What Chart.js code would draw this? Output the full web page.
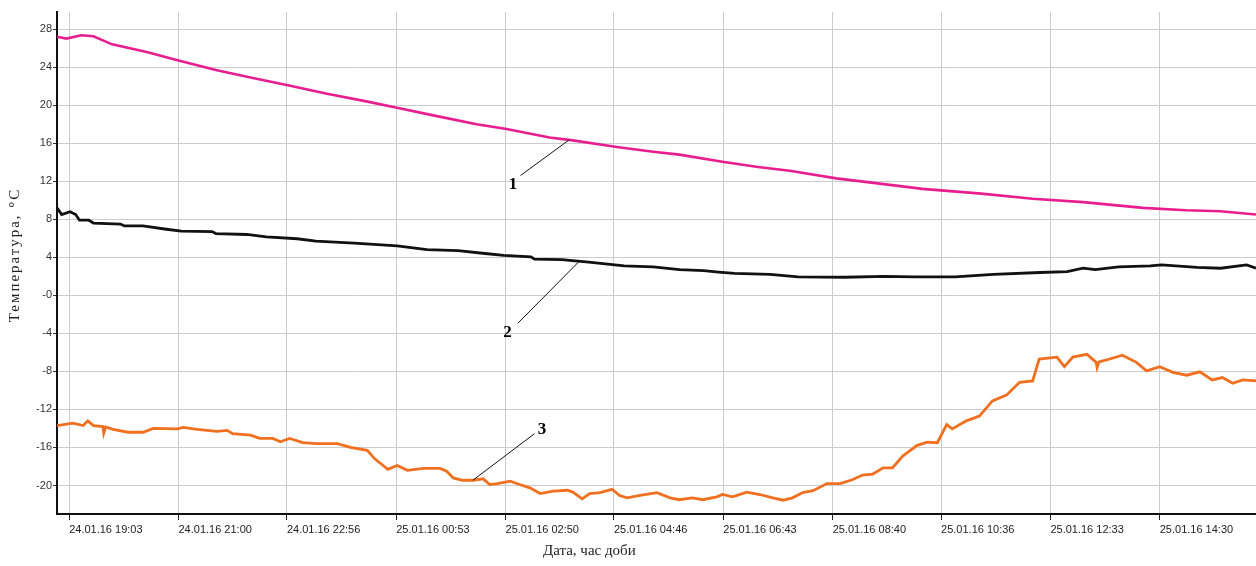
<!DOCTYPE html>
<html>
<head>
<meta charset="utf-8">
<script src="https://cdn.jsdelivr.net/npm/chart.js@4.4.1/dist/chart.umd.min.js"></script>
<style>
body { margin: 0; background: #fff; }
canvas { display: block; }
</style>
</head>
<body>
<canvas id="chart" width="1256" height="566"></canvas>
<script>
// x values are minutes after 24.01.16 19:03
const xTickMinutes = [0, 117, 233, 350, 467, 583, 700, 817, 933, 1050, 1167];
const xTickLabels = ['24.01.16 19:03', '24.01.16 21:00', '24.01.16 22:56', '25.01.16 00:53',
    '25.01.16 02:50', '25.01.16 04:46', '25.01.16 06:43', '25.01.16 08:40',
    '25.01.16 10:36', '25.01.16 12:33', '25.01.16 14:30'];
const yTickValues = [28, 24, 20, 16, 12, 8, 4, 0, -4, -8, -12, -16, -20];
const yTickLabels = ['28', '24', '20', '16', '12', '8', '4', '-0', '-4', '-8', '-12', '-16', '-20'];

// curve 1 (pink)
const pinkTime = [-13, -3, 13, 26, 46, 83, 117, 157, 194, 234, 276, 318, 352, 391, 436, 468,
    514, 539, 586, 625, 653, 699, 737, 771, 821, 863, 913, 976, 1031, 1085, 1149, 1195, 1232, 1270];
const pinkTemp = [27.2, 27.0, 27.35, 27.25, 26.4, 25.6, 24.7, 23.7, 22.9, 22.1, 21.2, 20.4, 19.7, 18.9, 18.0, 17.5,
    16.6, 16.3, 15.6, 15.1, 14.8, 14.05, 13.5, 13.1, 12.3, 11.8, 11.2, 10.7, 10.15, 9.8, 9.2, 8.95, 8.85, 8.5];

// curve 2 (black)
const blackTime = [-13, -8, 1, 7, 11, 21, 26, 55, 59, 79, 104, 120, 153, 157, 190, 211, 244, 264, 305,
    351, 383, 416, 445, 465, 494, 498, 527, 556, 594, 625, 653, 679, 695, 712, 750, 780, 830, 872,
    905, 948, 989, 1039, 1068, 1085, 1098, 1123, 1157, 1169, 1207, 1232, 1260, 1270];
const blackTemp = [9.2, 8.5, 8.8, 8.5, 7.9, 7.9, 7.6, 7.5, 7.3, 7.3, 6.95, 6.75, 6.7, 6.5, 6.4, 6.15, 5.95, 5.7, 5.5,
    5.2, 4.8, 4.7, 4.4, 4.2, 4.05, 3.8, 3.75, 3.5, 3.1, 3.0, 2.7, 2.6, 2.45, 2.3, 2.2, 1.95, 1.9, 2.0,
    1.95, 1.95, 2.2, 2.4, 2.5, 2.85, 2.7, 3.0, 3.1, 3.2, 2.95, 2.85, 3.2, 2.85];

// curve 3 (orange)
const orangeTime = [-13, 4, 15, 20, 26, 36, 37, 39, 47, 63, 79, 90, 116, 122, 137, 158, 169, 175, 194,
    204, 218, 226, 236, 250, 265, 287, 301, 319, 327, 336, 341, 351, 362, 379, 397, 404, 411, 421,
    432, 443, 450, 458, 472, 482, 493, 504, 518, 533, 539, 549, 557, 568, 581, 589, 597, 611, 629,
    643, 653, 667, 678, 693, 699, 710, 725, 739, 753, 764, 774, 785, 796, 811, 825, 838, 849, 860,
    871, 881, 892, 907, 918, 929, 939, 945, 960, 974, 988, 1003, 1017, 1031, 1038, 1057, 1065, 1074,
    1089, 1099, 1100, 1102, 1110, 1127, 1142, 1153, 1167, 1181, 1196, 1210, 1223, 1234, 1245, 1256, 1270];
const orangeTemp = [-13.7, -13.45, -13.7, -13.2, -13.7, -13.8, -14.5, -13.85, -14.1, -14.4, -14.4, -14.0, -14.05, -13.9, -14.1, -14.3, -14.2, -14.55, -14.7,
    -15.05, -15.05, -15.4, -15.05, -15.5, -15.6, -15.6, -16.0, -16.3, -17.2, -17.9, -18.3, -17.9, -18.4, -18.2, -18.2, -18.5, -19.2, -19.45,
    -19.45, -19.3, -19.9, -19.8, -19.55, -19.9, -20.25, -20.85, -20.6, -20.5, -20.7, -21.4, -20.85, -20.75, -20.4, -21.05, -21.3, -21.05, -20.75,
    -21.3, -21.5, -21.3, -21.5, -21.2, -20.95, -21.2, -20.7, -20.95, -21.3, -21.55, -21.3, -20.75, -20.55, -19.8, -19.8, -19.4, -18.9, -18.8,
    -18.15, -18.15, -16.9, -15.8, -15.45, -15.5, -13.6, -14.05, -13.2, -12.7, -11.1, -10.5, -9.15, -9.0, -6.7, -6.5, -7.5, -6.5,
    -6.2, -7.05, -7.6, -7.0, -6.8, -6.3, -7.05, -7.95, -7.5, -8.1, -8.4, -8.05, -8.9, -8.65, -9.25, -8.9, -9.0];

// curve numbers with leader lines, [minute, temp]
const curveNames = ['1', '2', '3'];
const labelAt = [[475, 11.6], [469, -3.9], [506, -14.1]];
const leaderFrom = [[483, 12.6], [480, -2.95], [498, -14.55]];
const leaderTo = [[535, 16.35], [545, 3.5], [432, -19.45]];

function toPoints(times, temps) {
    return times.map((t, i) => ({ x: t, y: temps[i] }));
}

const tickFont = { family: "'Liberation Sans', Arial, sans-serif", size: 11 };

const labelsPlugin = {
    id: 'labels',
    afterDatasetsDraw(chart) {
        const ctx = chart.ctx;
        const xs = chart.scales.x, ys = chart.scales.y;
        ctx.save();
        ctx.strokeStyle = '#111';
        ctx.lineWidth = 1;
        ctx.fillStyle = '#000';
        ctx.font = "bold 17px 'Liberation Serif', 'Times New Roman', serif";
        ctx.textAlign = 'center';
        ctx.textBaseline = 'middle';
        curveNames.forEach((name, i) => {
            ctx.beginPath();
            ctx.moveTo(xs.getPixelForValue(leaderFrom[i][0]), ys.getPixelForValue(leaderFrom[i][1]));
            ctx.lineTo(xs.getPixelForValue(leaderTo[i][0]), ys.getPixelForValue(leaderTo[i][1]));
            ctx.stroke();
            ctx.fillText(name, xs.getPixelForValue(labelAt[i][0]), ys.getPixelForValue(labelAt[i][1]));
        });
        ctx.restore();
    },
    afterDraw(chart) {
        const ctx = chart.ctx;
        const area = chart.chartArea;
        ctx.save();
        ctx.fillStyle = '#222';
        ctx.font = "15px 'Liberation Serif', 'Times New Roman', serif";
        ctx.textAlign = 'center';
        ctx.textBaseline = 'middle';
        // x axis title
        ctx.fillText('Дата, час доби', area.left + (area.right - area.left) * 0.444, 551);
        // y axis title
        ctx.translate(15, 255);
        ctx.rotate(-Math.PI / 2);
        ctx.letterSpacing = '2px';
        ctx.fillText('Температура, °С', 0, 0);
        ctx.restore();
    }
};

const ctx = document.getElementById('chart').getContext('2d');
const chart = new Chart(ctx, {
    type: 'line',
    data: {
        datasets: [
            { data: toPoints(pinkTime, pinkTemp), borderColor: '#e81e8f', borderWidth: 2.6 },
            { data: toPoints(blackTime, blackTemp), borderColor: '#111111', borderWidth: 2.8 },
            { data: toPoints(orangeTime, orangeTemp), borderColor: '#f07020', borderWidth: 2.8 }
        ]
    },
    options: {
        responsive: false,
        animation: false,
        layout: { padding: { top: 12, right: 0, left: 0, bottom: 0 } },
        elements: { point: { radius: 0 }, line: { tension: 0 } },
        plugins: { legend: { display: false }, tooltip: { enabled: false } },
        scales: {
            x: {
                type: 'linear',
                min: -13,
                max: 1270,
                afterBuildTicks: s => { s.ticks = xTickMinutes.map(v => ({ value: v })); },
                afterFit: s => { s.height = 52; },
                grid: { color: '#cccccc', tickColor: '#222', tickLength: 6 },
                border: { color: '#111', width: 2 },
                ticks: {
                    autoSkip: false,
                    maxRotation: 0,
                    align: 'start',
                    padding: 3,
                    color: '#222',
                    font: tickFont,
                    callback: (v, i) => xTickLabels[i]
                }
            },
            y: {
                min: -23,
                max: 29.8,
                afterBuildTicks: s => { s.ticks = yTickValues.map(v => ({ value: v })); },
                afterFit: s => { s.width = 57; },
                grid: { color: '#cccccc', tickColor: '#333', tickLength: 4 },
                border: { color: '#111', width: 2 },
                ticks: {
                    padding: 1,
                    color: '#333',
                    font: tickFont,
                    callback: (v, i) => yTickLabels[i]
                }
            }
        }
    },
    plugins: [labelsPlugin]
});
</script>
</body>
</html>
